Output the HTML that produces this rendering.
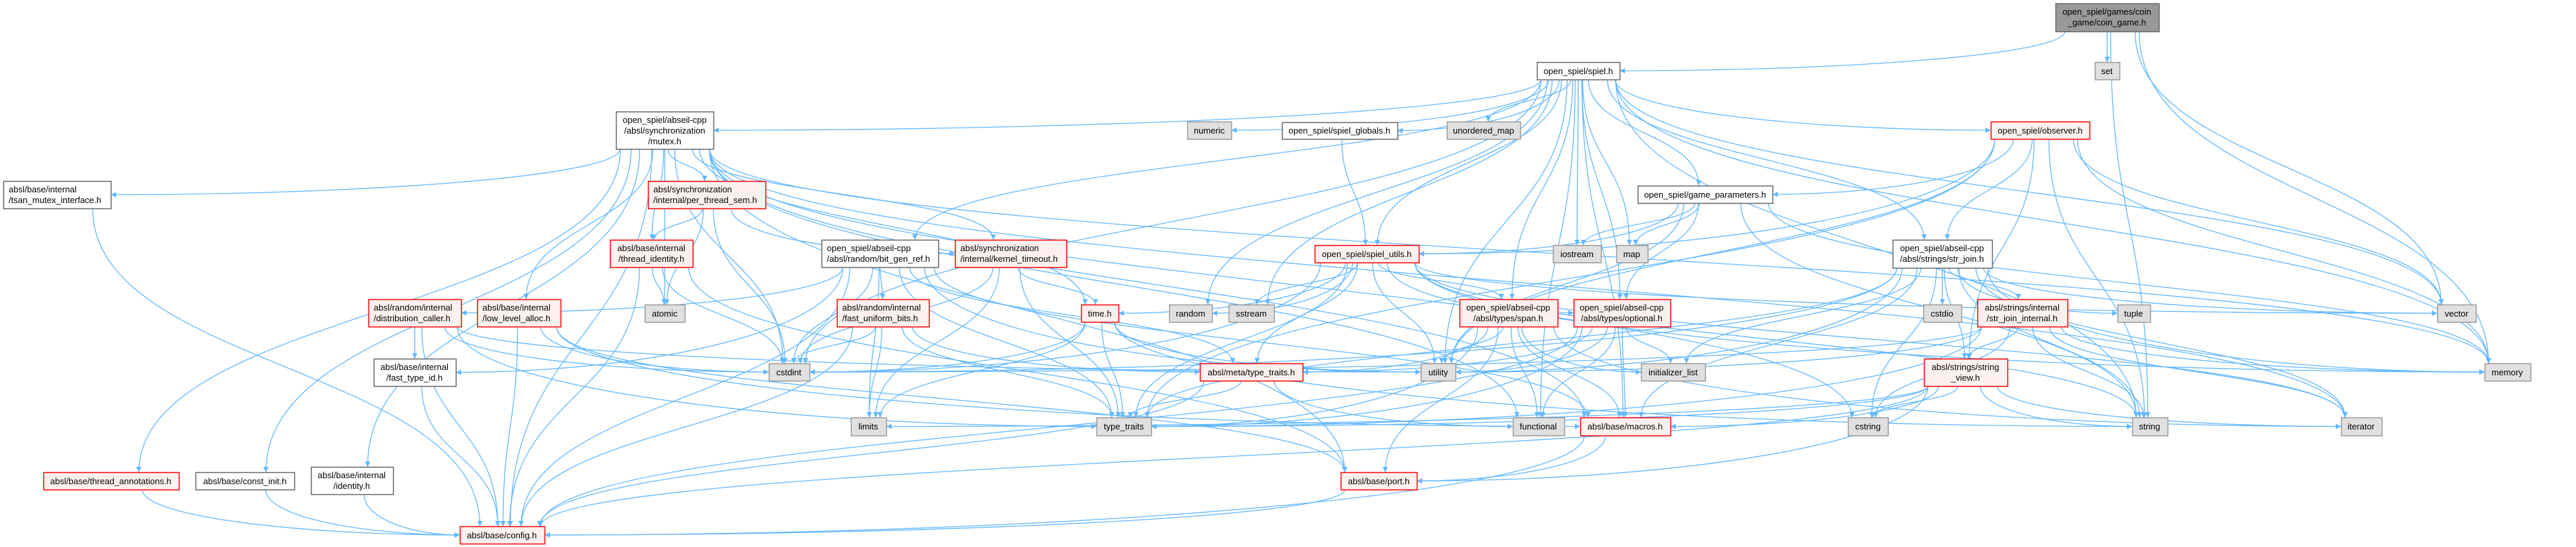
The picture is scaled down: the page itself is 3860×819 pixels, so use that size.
<!DOCTYPE html>
<html><head><meta charset="utf-8">
<style>
html,body{margin:0;padding:0;background:#fff;}
svg{display:block;}
text{font-family:"Liberation Sans",Arial,sans-serif;font-size:13px;fill:#000;}
</style></head>
<body>
<svg id="g" width="3860" height="819" viewBox="0 0 3860 819" xmlns="http://www.w3.org/2000/svg">
<defs>
<marker id="a" viewBox="0 0 10 10" refX="10" refY="5" markerWidth="10" markerHeight="8" markerUnits="userSpaceOnUse" orient="auto">
<path d="M0,0 L10,5 L0,10 z" fill="#63b8ff"/>
</marker>
</defs>
<g id="edges"></g>
<g id="nodes"></g>
<g id="labels">
<text x="3157" y="22" text-anchor="middle">open_spiel/games/coin</text>
<text x="3157" y="38" text-anchor="middle">_game/coin_game.h</text>
<text x="3157" y="111" text-anchor="middle">set</text>
<text x="2365" y="111" text-anchor="middle">open_spiel/spiel.h</text>
<text x="996" y="184" text-anchor="middle">open_spiel/abseil-cpp</text>
<text x="996" y="200" text-anchor="middle">/absl/synchronization</text>
<text x="996" y="216" text-anchor="middle">/mutex.h</text>
<text x="1812" y="200" text-anchor="middle">numeric</text>
<text x="2007" y="200" text-anchor="middle">open_spiel/spiel_globals.h</text>
<text x="2223" y="200" text-anchor="middle">unordered_map</text>
<text x="3057" y="200" text-anchor="middle">open_spiel/observer.h</text>
<text x="13" y="288">absl/base/internal</text>
<text x="13" y="304">/tsan_mutex_interface.h</text>
<text x="979" y="288">absl/synchronization</text>
<text x="979" y="304">/internal/per_thread_sem.h</text>
<text x="2555" y="296" text-anchor="middle">open_spiel/game_parameters.h</text>
<text x="976" y="376" text-anchor="middle">absl/base/internal</text>
<text x="976" y="392" text-anchor="middle">/thread_identity.h</text>
<text x="1239" y="376">open_spiel/abseil-cpp</text>
<text x="1239" y="392">/absl/random/bit_gen_ref.h</text>
<text x="1439" y="376">absl/synchronization</text>
<text x="1439" y="392">/internal/kernel_timeout.h</text>
<text x="2048" y="385" text-anchor="middle">open_spiel/spiel_utils.h</text>
<text x="2363" y="385" text-anchor="middle">iostream</text>
<text x="2445" y="385" text-anchor="middle">map</text>
<text x="2910" y="376" text-anchor="middle">open_spiel/abseil-cpp</text>
<text x="2910" y="392" text-anchor="middle">/absl/strings/str_join.h</text>
<text x="560" y="465">absl/random/internal</text>
<text x="560" y="481">/distribution_caller.h</text>
<text x="723" y="465">absl/base/internal</text>
<text x="723" y="481">/low_level_alloc.h</text>
<text x="996" y="474" text-anchor="middle">atomic</text>
<text x="1262" y="465">absl/random/internal</text>
<text x="1262" y="481">/fast_uniform_bits.h</text>
<text x="1648" y="474" text-anchor="middle">time.h</text>
<text x="1784" y="474" text-anchor="middle">random</text>
<text x="1875" y="474" text-anchor="middle">sstream</text>
<text x="2260" y="465" text-anchor="middle">open_spiel/abseil-cpp</text>
<text x="2260" y="481" text-anchor="middle">/absl/types/span.h</text>
<text x="2430" y="465" text-anchor="middle">open_spiel/abseil-cpp</text>
<text x="2430" y="481" text-anchor="middle">/absl/types/optional.h</text>
<text x="2910" y="474" text-anchor="middle">cstdio</text>
<text x="3030" y="465" text-anchor="middle">absl/strings/internal</text>
<text x="3030" y="481" text-anchor="middle">/str_join_internal.h</text>
<text x="3197" y="474" text-anchor="middle">tuple</text>
<text x="3681" y="474" text-anchor="middle">vector</text>
<text x="621" y="554" text-anchor="middle">absl/base/internal</text>
<text x="621" y="570" text-anchor="middle">/fast_type_id.h</text>
<text x="1182" y="562" text-anchor="middle">cstdint</text>
<text x="1875" y="562" text-anchor="middle">absl/meta/type_traits.h</text>
<text x="2155" y="562" text-anchor="middle">utility</text>
<text x="2507" y="562" text-anchor="middle">initializer_list</text>
<text x="2945" y="554" text-anchor="middle">absl/strings/string</text>
<text x="2945" y="570" text-anchor="middle">_view.h</text>
<text x="3757" y="562" text-anchor="middle">memory</text>
<text x="1301" y="643" text-anchor="middle">limits</text>
<text x="1684" y="643" text-anchor="middle">type_traits</text>
<text x="2305" y="643" text-anchor="middle">functional</text>
<text x="2435" y="643" text-anchor="middle">absl/base/macros.h</text>
<text x="2799" y="643" text-anchor="middle">cstring</text>
<text x="3221" y="643" text-anchor="middle">string</text>
<text x="3538" y="643" text-anchor="middle">iterator</text>
<text x="166" y="725" text-anchor="middle">absl/base/thread_annotations.h</text>
<text x="367" y="725" text-anchor="middle">absl/base/const_init.h</text>
<text x="527" y="716" text-anchor="middle">absl/base/internal</text>
<text x="527" y="732" text-anchor="middle">/identity.h</text>
<text x="2066" y="725" text-anchor="middle">absl/base/port.h</text>
<text x="752" y="806" text-anchor="middle">absl/base/config.h</text>
</g>
</svg>
<script>
var N={
coin:[3080,5,3235,47,'k'],set:[3139,93,3176,119,'g'],spiel:[2303,93,2427,119,'w'],
mutex:[923,167,1069,223,'w'],numeric:[1779,182,1845,208,'g'],globals:[1921,183,2094,208,'w'],
umap:[2168,182,2278,208,'g'],observer:[2983,182,3131,208,'r'],tsan:[5,271,166,312,'w'],
pts:[971,271,1147,312,'r'],gp:[2454,278,2656,304,'w'],tid:[914,359,1038,400,'r'],
bgr:[1231,359,1406,400,'w'],kt:[1431,359,1598,400,'r'],utils:[1970,367,2126,393,'r'],
iostream:[2327,367,2399,393,'g'],map:[2422,367,2469,393,'g'],strjoin:[2836,359,2985,401,'w'],
dc:[552,448,691,489,'r'],lla:[715,448,840,489,'r'],atomic:[966,456,1026,482,'g'],
fub:[1254,448,1392,489,'r'],time:[1620,456,1676,482,'r'],random:[1752,456,1816,482,'g'],
sstream:[1841,456,1909,482,'g'],span:[2187,448,2334,489,'r'],optional:[2358,448,2503,489,'r'],
cstdio:[2882,456,2939,482,'g'],sji:[2963,448,3098,489,'r'],tuple:[3173,456,3222,482,'g'],
vector:[3652,456,3710,482,'g'],ftid:[560,537,683,578,'w'],cstdint:[1152,544,1213,570,'g'],
mtt:[1798,544,1952,570,'r'],utility:[2129,544,2181,570,'g'],ilist:[2459,544,2555,570,'g'],
sv:[2883,537,3008,578,'r'],memory:[3723,544,3792,570,'g'],limits:[1275,625,1328,652,'g'],
tt:[1643,625,1725,652,'g'],functional:[2267,625,2344,652,'g'],macros:[2368,625,2503,652,'r'],
cstring:[2769,625,2829,652,'g'],string:[3195,625,3248,652,'g'],iterator:[3508,625,3569,652,'g'],
ta:[65,707,268,733,'r'],ci:[293,707,441,733,'w'],identity:[466,699,589,740,'w'],
port:[2009,707,2123,733,'r'],config:[689,788,816,814,'r']};
var E={
coin:['spiel','set','memory','string','vector'],
spiel:['mutex','bgr','numeric','globals','umap','observer','gp','utils','iostream','map','span','optional','strjoin','random','sstream','utility','functional','macros','memory','vector','string','cstdint'],
mutex:['tsan','pts','tid','kt','time','atomic','cstdint','lla','ta','ci','identity','port','config','macros','cstring','iterator','memory','functional'],
pts:['tid','atomic','kt','cstdint'],
tid:['atomic','cstdint','config','port'],
kt:['time','cstdint','tt','limits'],
bgr:['dc','ftid','fub','mtt','tt','cstdint','limits','utility','macros','config'],
dc:['ftid','config','utility','tt','cstdint'],
lla:['config','cstdint','port','macros'],
ftid:['config'],
fub:['cstdint','limits','tt','config','mtt'],
time:['cstdint','limits','tt','utility','string'],
utils:['random','sstream','utility','time','vector','string','cstdint','span','optional','memory','tt','iterator','mtt'],
globals:['utils'],
gp:['utils','iostream','map','string','memory','optional','utility'],
observer:['gp','utils','strjoin','string','sv','memory','vector','tt','utility'],
strjoin:['cstdio','sji','tuple','sv','cstring','string','iterator','memory','vector','utility','ilist','tt','macros','cstdint'],
span:['mtt','utility','ilist','tt','port','macros','functional','iterator'],
optional:['utility','ilist','tt','functional','macros','config','mtt'],
sji:['sv','string','iterator','memory','cstring','tt','utility','cstdint'],
sv:['cstring','string','iterator','port','config','macros','limits','tt'],
mtt:['tt','functional','config'],
macros:['port','config'],
port:['config'],
ta:['config'],ci:['config'],identity:['config'],tsan:['config']};
var ns='http://www.w3.org/2000/svg';
var eg=document.getElementById('edges'),ng=document.getElementById('nodes');
function cl(v,a,b){return Math.max(a,Math.min(b,v));}
for(var s in E){E[s].forEach(function(t,i){
 var A=N[s],B=N[t];var acx=(A[0]+A[2])/2,bcx=(B[0]+B[2])/2;
 var sx=cl(acx+(bcx-acx)*0.08,A[0]+6,A[2]-6),sy=A[3];
 var tx=cl(bcx+(acx-bcx)*0.05,B[0]+6,B[2]-6),ty=B[1];
 var d;
 if(Math.abs(bcx-acx)>(B[1]-A[3])*4 && (B[1]-A[3])<200){
   var side=bcx<acx?B[2]:B[0];var my=(B[1]+B[3])/2;
   tx=side;ty=my;
   d='M'+sx+','+sy+' C'+sx+','+(sy+(ty-sy)*0.6)+' '+(tx+(sx-tx)*0.5)+','+ty+' '+tx+','+ty;
 }else{
   var dy=ty-sy;
   d='M'+sx+','+sy+' C'+sx+','+(sy+dy*0.5)+' '+tx+','+(ty-dy*0.5)+' '+tx+','+ty;
 }
 var p=document.createElementNS(ns,'path');p.setAttribute('d',d);p.setAttribute('fill','none');
 p.setAttribute('stroke','#63b8ff');p.setAttribute('stroke-width','1.3');p.setAttribute('marker-end','url(#a)');
 eg.appendChild(p);});}
for(var k in N){var n=N[k];var r=document.createElementNS(ns,'rect');
 r.setAttribute('x',n[0]+0.5);r.setAttribute('y',n[1]+0.5);r.setAttribute('width',n[2]-n[0]);r.setAttribute('height',n[3]-n[1]);
 var f='#fff',st='#666';if(n[4]=='g'){f='#e0e0e0';st='#999';}if(n[4]=='r'){f='#fff0f0';st='#ff0000';}if(n[4]=='k'){f='#999';st='#666';}
 r.setAttribute('fill',f);r.setAttribute('stroke',st);r.setAttribute('stroke-width','1.5');ng.appendChild(r);}
</script>
</body></html>
